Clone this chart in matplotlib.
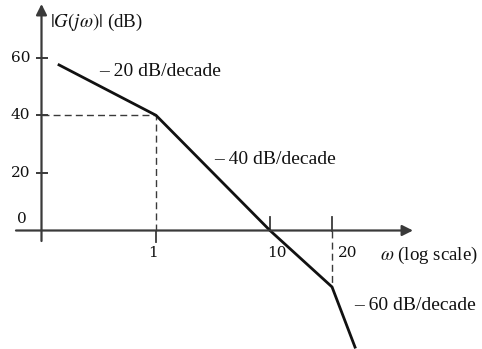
import matplotlib
matplotlib.use("Agg")
import matplotlib.pyplot as plt

plt.rcParams['font.family'] = ['Liberation Serif', 'DejaVu Serif']
plt.rcParams['mathtext.fontset'] = 'stix'

# Asymptotic (straight-line) magnitude sketch: corner points
omega = [0.141, 1.0, 10.0, 35.0, 55.7]
mag_db = [57.5, 40.0, 0.0, -19.6, -40.5]

y_ticks = [20, 40, 60]
y_tick_labels = ["20", "40", "60"]
x_ticks = [1.0, 10.0, 35.0]
x_tick_labels = ["1", "10", "20"]
slope_labels = ["\u2013 20 dB/decade", "\u2013 40 dB/decade", "\u2013 60 dB/decade"]

W, H = 482, 349
PX_PER_DECADE = 114.0
X_ORIGIN_PX = 156.0      # pixel column of omega = 1
Y_ZERO_PX = 230.5        # pixel row of 0 dB
PX_PER_DB = 2.88


def w_at(px):
    return 10 ** ((px - X_ORIGIN_PX) / PX_PER_DECADE)


def db_at(py):
    return (Y_ZERO_PX - py) / PX_PER_DB


fig = plt.figure(figsize=(W / 100, H / 100), dpi=100)
ax = fig.add_axes([0, 0, 1, 1])
ax.set_xscale('log')
ax.set_xlim(w_at(0), w_at(W))
ax.set_ylim(db_at(H), db_at(0))
ax.axis('off')

axis_col = '#3a3a3a'
ink = '#111111'
tick_font = dict(family='DejaVu Serif', fontsize=11, color=ink)
w0 = w_at(41.5)

# axes with arrowheads
arrow = dict(arrowstyle='-|>', color=axis_col, lw=1.6, mutation_scale=16,
             shrinkA=0, shrinkB=0)
ax.annotate('', xy=(w0, db_at(4)), xytext=(w0, db_at(241)), arrowprops=arrow)
ax.annotate('', xy=(w_at(413), 0), xytext=(w_at(16), 0), arrowprops=arrow)

# y ticks and labels
ax.plot([w0] * len(y_ticks), y_ticks, ls='', marker='_', ms=8.5, mew=1.4,
        color=axis_col)
for v, lab in zip(y_ticks, y_tick_labels):
    ax.annotate(lab, (w0, v), xytext=(-8, 0), textcoords='offset points',
                ha='right', va='center', **tick_font)
ax.annotate("0", (w0, 0), xytext=(-14, 8), textcoords='offset points',
            ha='center', va='center', **tick_font)

# x ticks
ax.plot([x_ticks[0]] * 2, [db_at(242), 0], color=axis_col, lw=1.3)
for xt in x_ticks[1:]:
    ax.plot([xt] * 2, [0, db_at(217)], color=axis_col, lw=1.3)
x_label_dx = [-2, 5, 11]
for xt, lab, dx in zip(x_ticks, x_tick_labels, x_label_dx):
    ax.annotate(lab, (xt, 0), xytext=(dx, -16), textcoords='offset points',
                ha='center', va='center', **tick_font)

# dashed guide lines to the corner points
dash = dict(color=axis_col, lw=1.0, ls=(0, (5, 3)))
ax.plot([w0, omega[1]], [mag_db[1], mag_db[1]], **dash)
ax.plot([omega[1], omega[1]], [0, mag_db[1]], **dash)
ax.plot([omega[3], omega[3]], [0, mag_db[3]], **dash)

# magnitude asymptotes
ax.plot(omega, mag_db, color=ink, lw=2.0, solid_joinstyle='miter')

# labels
def ftext(px, py, s, size):
    fig.text(px / W, 1 - py / H, s, fontsize=size, color=ink, va='center')

ftext(50, 22, r"$|G(j\omega)|$ (dB)", 13.7)
ftext(99, 71, slope_labels[0], 14)
ftext(214, 160, slope_labels[1], 14)
ftext(354, 305, slope_labels[2], 14)
ftext(380, 255, r"$\omega$ (log scale)", 13.6)

fig.savefig('out.png', dpi=100)
